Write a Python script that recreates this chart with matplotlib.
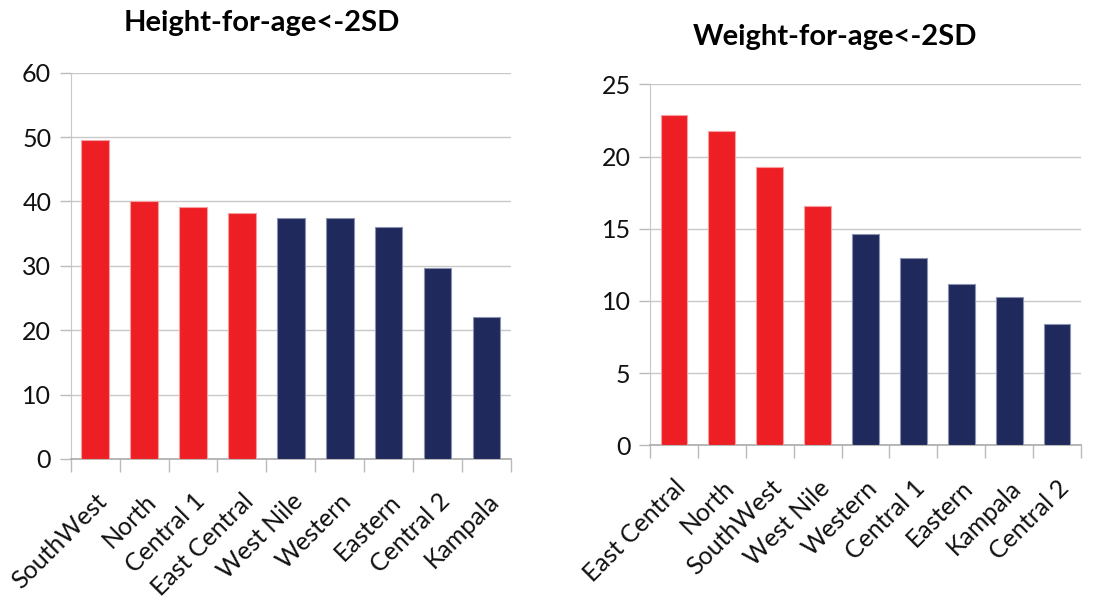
import matplotlib.pyplot as plt
import numpy as np

plt.rcParams['font.family'] = ['Lato', 'DejaVu Sans']

# Stunting (height-for-age < -2SD), % by region
height_regions = ["SouthWest", "North", "Central 1", "East Central", "West Nile",
                  "Western", "Eastern", "Central 2", "Kampala"]
height_values = [49.5, 40.0, 39.2, 38.2, 37.5, 37.5, 36.1, 29.7, 22.1]
height_high = [True, True, True, True, False, False, False, False, False]

# Underweight (weight-for-age < -2SD), % by region
weight_regions = ["East Central", "North", "SouthWest", "West Nile", "Western",
                  "Central 1", "Eastern", "Kampala", "Central 2"]
weight_values = [22.9, 21.8, 19.3, 16.6, 14.6, 13.0, 11.2, 10.3, 8.4]
weight_high = [True, True, True, True, False, False, False, False, False]

RED = '#ED1F25'
NAVY = '#1F295B'

fig = plt.figure(figsize=(11.01, 6.0), dpi=100)
ax1 = fig.add_axes([0.0642, 0.235, 0.4000, 0.6438])
ax2 = fig.add_axes([0.5904, 0.2578, 0.3914, 0.6017])


def draw_panel(ax, regions, values, high, title, ymax, ystep, title_xy):
    x = np.arange(len(regions))
    colors = [RED if h else NAVY for h in high]
    edges = ['#F4A0A3' if h else '#8C93B0' for h in high]
    ax.bar(x, values, width=0.56, color=colors, edgecolor=edges, linewidth=0.8, zorder=3)
    ax.set_xlim(-0.5, len(regions) - 0.5)
    ax.set_ylim(0, ymax)
    ax.set_yticks(np.arange(0, ymax + 0.1, ystep))
    ax.yaxis.grid(True, color='#C8C8C8', linewidth=1.0, zorder=0)
    ax.set_axisbelow(True)

    # category labels at bar centres, tick marks at the boundaries
    ax.set_xticks(x)
    ax.set_xticklabels(regions, rotation=45, ha='right', rotation_mode='anchor',
                       fontsize=18, color='#111111')
    ax.set_xticks(np.arange(len(regions) + 1) - 0.5, minor=True)
    ax.tick_params(axis='x', which='major', length=0, pad=22)
    ax.tick_params(axis='x', which='minor', length=9, color='#BBBBBB', width=1)
    ax.tick_params(axis='y', length=8, color='#BBBBBB', width=1, labelsize=18,
                   labelcolor='#111111', pad=6)

    for side in ['top', 'right']:
        ax.spines[side].set_visible(False)
    ax.spines['left'].set_color('#C8C8C8')
    ax.spines['bottom'].set_color('#AAAAAA')
    ax.spines['bottom'].set_linewidth(1.2)

    ax.text(title_xy[0], title_xy[1], title, transform=ax.transAxes,
            ha='center', va='center', fontsize=21, fontweight='bold', color='#000000')


draw_panel(ax1, height_regions, height_values, height_high,
           "Height-for-age<-2SD", 60, 10, (0.433, 1.129))
draw_panel(ax2, weight_regions, weight_values, weight_high,
           "Weight-for-age<-2SD", 25, 5, (0.43, 1.13))

fig.savefig('out.png', dpi=100)
